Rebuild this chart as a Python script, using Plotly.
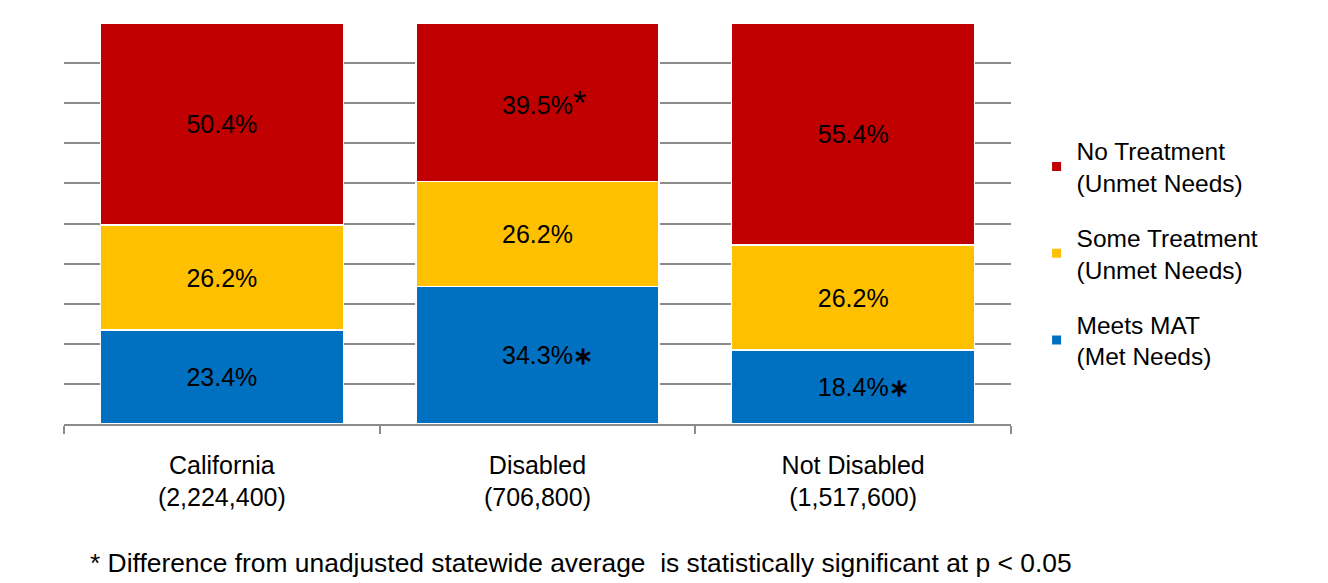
import plotly.graph_objects as go

categories = ["California<br>(2,224,400)", "Disabled<br>(706,800)", "Not Disabled<br>(1,517,600)"]
series_names = ["Meets MAT<br>(Met Needs)", "Some Treatment<br>(Unmet Needs)", "No Treatment<br>(Unmet Needs)"]
meets_mat = [23.4, 34.3, 18.4]
some_treatment = [26.2, 26.2, 26.2]
no_treatment = [50.4, 39.5, 55.4]
meets_sig = [False, True, True]
some_sig = [False, False, False]
no_sig = [False, True, False]
colors = ["#0070C0", "#FFC000", "#C00000"]
footnote = "* Difference from unadjusted statewide average  is statistically significant at p < 0.05"

FONT = "Liberation Sans, Arial, sans-serif"

def labels(vals, sig, raised=False):
    out = []
    for v, s in zip(vals, sig):
        t = f"{v:.1f}%"
        if s:
            if raised:
                star = "<span style='font-size:34px'>*</span>"
                ghost = "<span style='font-size:34px;fill:rgba(0,0,0,0)'>*</span>"
            else:
                star = "<b><span style='font-size:24px'>\u2217</span></b>"
                ghost = "<b><span style='font-size:24px;fill:rgba(0,0,0,0)'>\u2217</span></b>"
            t = ghost + t + star
        out.append(t)
    return out

fig = go.Figure()
for name, vals, sig, col, raised in [
    (series_names[0], meets_mat, meets_sig, colors[0], False),
    (series_names[1], some_treatment, some_sig, colors[1], False),
    (series_names[2], no_treatment, no_sig, colors[2], True),
]:
    fig.add_trace(go.Bar(
        x=categories, y=vals, name=name, showlegend=False,
        marker=dict(color=col, line=dict(color="white", width=1.5)),
        text=labels(vals, sig, raised), textposition="inside", insidetextanchor="middle",
        textangle=0,
        textfont=dict(family=FONT, size=25, color="black"),
        hoverinfo="skip",
    ))

# legend entries (small square swatches), top to bottom
for name, col in zip(series_names[::-1], colors[::-1]):
    fig.add_trace(go.Scatter(
        x=[None], y=[None], mode="markers", name=name, legendgroup=name,
        marker=dict(symbol="square", size=9, color=col),
        hoverinfo="skip",
    ))

fig.update_layout(
    barmode="stack",
    bargap=0.23,
    width=1328, height=583,
    margin=dict(l=64, r=317, t=23, b=159),
    paper_bgcolor="white", plot_bgcolor="white",
    font=dict(family=FONT, size=25, color="black"),
    legend=dict(
        x=1.027, y=0.7375, xanchor="left", yanchor="top",
        traceorder="grouped", tracegroupgap=20,
        font=dict(family=FONT, size=24.5, color="black"),
        itemwidth=30,
    ),
    showlegend=True,
)
fig.update_yaxes(
    range=[0, 100], dtick=10, showgrid=True, gridcolor="#8c8c8c", gridwidth=1.5,
    showticklabels=False, zeroline=False, showline=False, ticks="",
)
fig.update_xaxes(
    showline=True, linecolor="#8c8c8c", linewidth=1.5,
    ticks="outside", tickson="boundaries", ticklen=8, tickcolor="#8c8c8c", tickwidth=1.5,
    tickfont=dict(family=FONT, size=25, color="black"),
    ticklabelstandoff=18,
)
fig.add_annotation(
    text=footnote, xref="paper", yref="paper", x=0.025, y=-0.3475,
    xanchor="left", yanchor="middle", showarrow=False,
    font=dict(family=FONT, size=26.4, color="black"),
)
fig.write_html("out.html")
